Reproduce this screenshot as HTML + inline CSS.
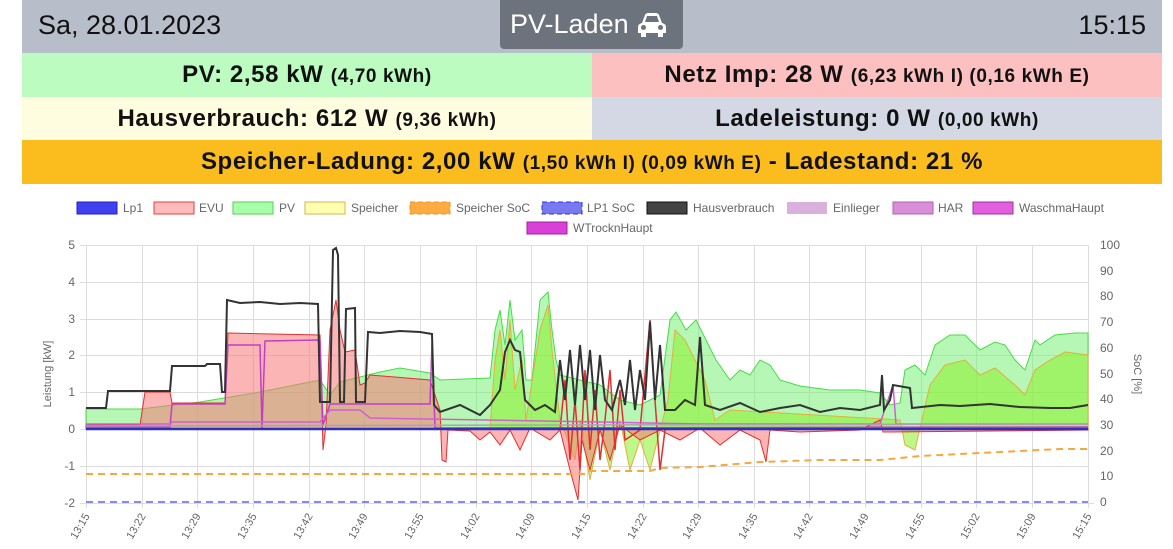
<!DOCTYPE html>
<html><head><meta charset="utf-8">
<style>
body{margin:0;width:1173px;height:549px;background:#fff;font-family:"Liberation Sans",sans-serif;overflow:hidden;position:relative}
.bar{position:absolute;left:22px;width:1140px;top:0;height:53px;background:#b8bec9}
.date{position:absolute;left:38px;top:10px;font-size:27px;color:#111}
.time{position:absolute;right:27px;top:10px;font-size:27px;color:#111}
.mode{position:absolute;left:500px;top:0;width:183px;height:49px;background:#6c737c;color:#fff;font-size:27px;line-height:49px;border-radius:0 0 4px 4px}
.mode span{position:absolute;left:10px;top:0}
.row{position:absolute;height:44px;line-height:44px;text-align:center;font-weight:bold;font-size:24px;color:#111;letter-spacing:0.6px}
.row small{font-size:19px;letter-spacing:0.6px}
</style></head><body>
<div class="bar"></div>
<div class="date">Sa, 28.01.2023</div>
<div class="mode"><span>PV-Laden</span>
<svg style="position:absolute;left:137px;top:12px" width="30" height="26" viewBox="0 0 30 26"><path fill="#fff" d="M5,11 L8,3 Q9,1 11,1 L19,1 Q21,1 22,3 L25,11 Q29,12 29,15 L29,21 L26,21 L26,25 L21,25 L21,21 L9,21 L9,25 L4,25 L4,21 L1,21 L1,15 Q1,12 5,11 Z"/><path fill="#6c737c" d="M8,10 L10,4 L20,4 L22,10 Z"/><circle cx="6.5" cy="15.5" r="2.5" fill="#6c737c"/><circle cx="23.5" cy="15.5" r="2.5" fill="#6c737c"/></svg></div>
<div class="time">15:15</div>
<div class="row" style="left:22px;width:570px;top:53px;background:#bdfcc0">PV: 2,58 kW <small>(4,70 kWh)</small></div>
<div class="row" style="left:592px;width:570px;top:53px;background:#fcc0c0">Netz Imp: 28 W <small>(6,23 kWh I) (0,16 kWh E)</small></div>
<div class="row" style="left:22px;width:570px;top:97px;height:43px;line-height:43px;background:#fefde0">Hausverbrauch: 612 W <small>(9,36 kWh)</small></div>
<div class="row" style="left:592px;width:570px;top:97px;height:43px;line-height:43px;background:#d3d8e4">Ladeleistung: 0 W <small>(0,00 kWh)</small></div>
<div class="row" style="left:22px;width:1140px;top:140px;background:#fbbc1e">Speicher-Ladung: 2,00 kW <small>(1,50 kWh I) (0,09 kWh E)</small> - Ladestand: 21 %</div>

<svg width="1173" height="549" style="position:absolute;left:0;top:0" font-family="Liberation Sans, sans-serif" font-size="12" fill="#666">
<g font-size="12">
<rect x="77" y="202" width="40" height="12" fill="#4040f0" stroke="#2020c0"/><text x="123" y="212">Lp1</text>
<rect x="154" y="202" width="40" height="12" fill="#fbb" stroke="#e04040"/><text x="199" y="212">EVU</text>
<rect x="233" y="202" width="40" height="12" fill="#afa" stroke="#5c5"/><text x="279" y="212">PV</text>
<rect x="305" y="202" width="40" height="12" fill="#ffffb0" stroke="#dcb050"/><text x="351" y="212">Speicher</text>
<rect x="410" y="202" width="40" height="12" fill="#fbab40" stroke="#f09020" stroke-dasharray="5,3"/><text x="456" y="212">Speicher SoC</text>
<rect x="542" y="202" width="40" height="12" fill="#7878f0" stroke="#3030e0" stroke-dasharray="5,3"/><text x="587" y="212">LP1 SoC</text>
<rect x="647" y="202" width="40" height="12" fill="#444" stroke="#111"/><text x="693" y="212">Hausverbrauch</text>
<rect x="787" y="202" width="40" height="12" fill="#dab0dc"/><text x="833" y="212">Einlieger</text>
<rect x="893" y="202" width="40" height="12" fill="#d88ed8" stroke="#b060b0"/><text x="938" y="212">HAR</text>
<rect x="973" y="202" width="40" height="12" fill="#e060e0" stroke="#a030a0"/><text x="1019" y="212">WaschmaHaupt</text>
<rect x="527" y="222" width="40" height="12" fill="#d840d8" stroke="#a020a0"/><text x="573" y="232">WTrocknHaupt</text>
</g>
<g stroke="#ddd" stroke-width="1">
<line x1="80" y1="245.5" x2="1088" y2="245.5"/><line x1="80" y1="282.5" x2="1088" y2="282.5"/><line x1="80" y1="319.5" x2="1088" y2="319.5"/><line x1="80" y1="355.5" x2="1088" y2="355.5"/><line x1="80" y1="392.5" x2="1088" y2="392.5"/><line x1="80" y1="429.5" x2="1088" y2="429.5"/><line x1="80" y1="466.5" x2="1088" y2="466.5"/><line x1="80" y1="503.5" x2="1094" y2="503.5"/>
<line x1="86.5" y1="245" x2="86.5" y2="508"/><line x1="142.5" y1="245" x2="142.5" y2="508"/><line x1="197.5" y1="245" x2="197.5" y2="508"/><line x1="253.5" y1="245" x2="253.5" y2="508"/><line x1="309.5" y1="245" x2="309.5" y2="508"/><line x1="364.5" y1="245" x2="364.5" y2="508"/><line x1="420.5" y1="245" x2="420.5" y2="508"/><line x1="476.5" y1="245" x2="476.5" y2="508"/><line x1="531.5" y1="245" x2="531.5" y2="508"/><line x1="587.5" y1="245" x2="587.5" y2="508"/><line x1="643.5" y1="245" x2="643.5" y2="508"/><line x1="698.5" y1="245" x2="698.5" y2="508"/><line x1="754.5" y1="245" x2="754.5" y2="508"/><line x1="809.5" y1="245" x2="809.5" y2="508"/><line x1="865.5" y1="245" x2="865.5" y2="508"/><line x1="921.5" y1="245" x2="921.5" y2="508"/><line x1="976.5" y1="245" x2="976.5" y2="508"/><line x1="1032.5" y1="245" x2="1032.5" y2="508"/><line x1="1088.5" y1="245" x2="1088.5" y2="508"/>
</g>
<g text-anchor="end" font-size="12"><text x="75" y="249">5</text><text x="75" y="286">4</text><text x="75" y="323">3</text><text x="75" y="359">2</text><text x="75" y="396">1</text><text x="75" y="433">0</text><text x="75" y="470">-1</text><text x="75" y="507">-2</text></g>
<g font-size="12"><text x="1100" y="249">100</text><text x="1100" y="275">90</text><text x="1100" y="300">80</text><text x="1100" y="326">70</text><text x="1100" y="352">60</text><text x="1100" y="378">50</text><text x="1100" y="403">40</text><text x="1100" y="429">30</text><text x="1100" y="455">20</text><text x="1100" y="480">10</text><text x="1100" y="506">0</text></g>
<text transform="translate(51,374) rotate(-90)" text-anchor="middle" font-size="11">Leistung [kW]</text>
<text transform="translate(1134,374) rotate(90)" text-anchor="middle" font-size="11">SoC [%]</text>
<g font-size="11" text-anchor="end">
<text transform="translate(90,516) rotate(-60)">13:15</text><text transform="translate(146,516) rotate(-60)">13:22</text><text transform="translate(201,516) rotate(-60)">13:29</text><text transform="translate(257,516) rotate(-60)">13:35</text><text transform="translate(313,516) rotate(-60)">13:42</text><text transform="translate(368,516) rotate(-60)">13:49</text><text transform="translate(424,516) rotate(-60)">13:55</text><text transform="translate(480,516) rotate(-60)">14:02</text><text transform="translate(535,516) rotate(-60)">14:09</text><text transform="translate(591,516) rotate(-60)">14:15</text><text transform="translate(647,516) rotate(-60)">14:22</text><text transform="translate(702,516) rotate(-60)">14:29</text><text transform="translate(758,516) rotate(-60)">14:35</text><text transform="translate(813,516) rotate(-60)">14:42</text><text transform="translate(869,516) rotate(-60)">14:49</text><text transform="translate(925,516) rotate(-60)">14:55</text><text transform="translate(980,516) rotate(-60)">15:02</text><text transform="translate(1036,516) rotate(-60)">15:09</text><text transform="translate(1092,516) rotate(-60)">15:15</text>
</g>
<path fill="rgba(110,240,110,0.5)" stroke="#4d4" stroke-width="1" d="M86,429 L86,409 L140,409 L200,402 L260,392 L320,380 L330,395 L340,382 L380,372 L400,368 L430,373 L440,380 L490,378 L495,330 L500,310 L505,345 L510,300 L515,340 L522,330 L526,380 L532,380 L540,300 L548,292 L552,330 L556,360 L560,375 L580,380 L600,385 L620,400 L640,405 L660,395 L670,320 L676,312 L686,330 L696,320 L706,340 L716,360 L730,380 L740,370 L750,375 L760,360 L770,365 L780,380 L800,386 L830,390 L860,390 L880,393 L890,405 L900,403 L905,370 L915,365 L925,375 L935,345 L950,335 L965,335 L980,350 L995,342 L1005,345 L1015,360 L1025,370 L1035,340 L1040,345 L1055,335 L1075,333 L1088,333 L1088,429 Z"/>
<path fill="rgba(140,240,40,0.55)" stroke="#e0b040" stroke-width="1" d="M490,429 L495,360 L500,330 L505,380 L510,320 L515,390 L522,360 L526,420 L540,330 L548,305 L552,350 L560,420 L575,460 L580,420 L590,480 L600,430 L610,470 L620,420 L630,470 L640,440 L650,470 L660,430 L668,400 L675,330 L685,340 L695,360 L705,380 L715,420 L730,410 L900,420 L905,445 L915,450 L920,428 L930,385 L945,365 L965,360 L980,375 L995,368 L1015,385 L1025,395 L1035,370 L1050,360 L1065,352 L1088,355 L1088,429 Z"/>
<path fill="rgba(250,120,120,0.55)" stroke="#e03030" stroke-width="1" d="M86,429 L86,425 L140,425 L145,392 L170,392 L172,403 L225,403 L228,333 L320,335 L323,450 L326,425 L330,330 L336,300 L340,330 L345,352 L355,350 L360,385 L365,383 L370,375 L430,380 L440,410 L442,460 L446,462 L448,430 L470,431 L480,440 L490,432 L500,445 L510,430 L520,450 L530,428 L550,440 L560,430 L570,470 L578,500 L582,440 L590,470 L600,430 L610,460 L620,425 L640,440 L660,430 L680,440 L700,428 L720,445 L740,430 L760,440 L766,462 L770,430 L800,432 L860,430 L880,420 L883,432 L1088,430 L1088,429 Z"/>
<polyline fill="none" stroke="#e03030" stroke-width="1.5" points="560,430 565,380 570,460 575,400 580,470 585,370 590,450 595,390 600,460 605,420 610,370 615,450 620,390 625,440 640,430 650,320 655,400 660,470 665,430"/>
<polyline fill="none" stroke="#c040c0" stroke-width="1.5" points="86,427 170,427 172,404 225,404 228,345 260,345 262,429 265,341 320,340 323,425 330,404 430,404 432,343 435,428 1088,427"/>
<polyline fill="none" stroke="#d060d0" stroke-width="1.5" points="86,424 170,424 172,422 320,422 330,410 360,410 370,418 600,422 700,424 880,424 893,385 896,424 1088,424"/>
<polyline fill="none" stroke="#b0a0b0" stroke-width="1.5" points="86,426 1088,424"/>
<polyline fill="none" stroke="#333" stroke-width="2" points="86,408 106,408 108,391 170,391 172,366 205,366 207,364 220,364 222,392 225,392 227,300 240,303 260,302 280,304 300,303 318,304 320,402 330,402 333,250 336,248 338,255 340,402 344,402 346,309 355,308 356,402 365,402 368,332 380,333 400,331 420,332 432,334 434,405 440,412 460,405 480,415 490,405 500,390 505,352 510,340 515,350 520,352 525,400 535,410 545,405 555,412 560,360 565,400 570,350 575,405 580,345 585,400 590,350 595,410 600,355 605,400 612,410 620,380 625,405 630,360 635,410 640,370 645,400 650,322 655,400 660,345 665,410 675,410 685,400 695,405 700,337 705,405 720,410 740,403 760,412 780,408 800,405 820,412 840,408 860,410 880,405 882,375 884,410 890,400 893,385 910,388 912,408 940,405 960,406 990,404 1020,407 1050,408 1070,408 1088,405"/>
<polyline fill="none" stroke="#f5a742" stroke-width="2" stroke-dasharray="7,5" points="86,474 585,474 590,471 650,471 660,468 700,467 760,462 820,460 880,460 920,456 960,454 1000,452 1040,450 1060,449 1088,449"/>
<line x1="86" y1="502" x2="1088" y2="502" stroke="#6060f0" stroke-width="1.5" stroke-dasharray="7,5"/>
<line x1="86" y1="429" x2="1088" y2="429" stroke="#3030c0" stroke-width="2.5"/>
</svg>
</body></html>
